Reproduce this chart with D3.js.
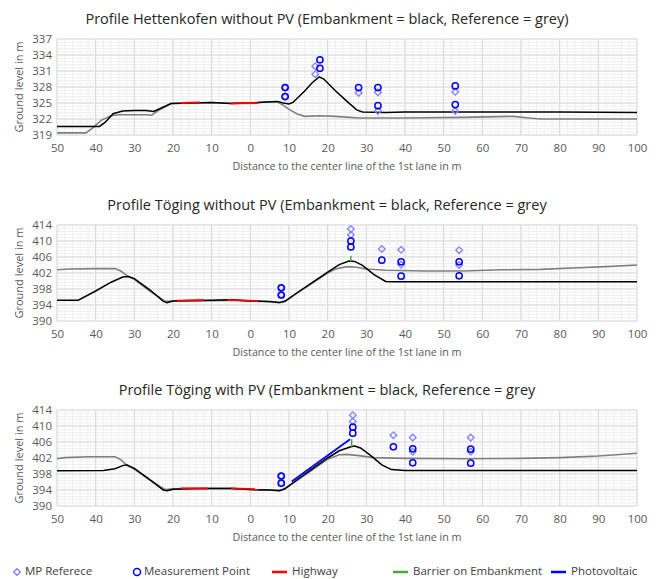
<!DOCTYPE html>
<html lang="en">
<head>
   <meta charset="UTF-8">
   <title>Ground level profiles</title>
   <script src="https://cdn.jsdelivr.net/npm/d3@7/dist/d3.min.js"></script>
   <style>
      body { margin: 0; background: #fff; }
      svg text { font-family: "Open Sans", "Noto Sans", sans-serif; }
   </style>
</head>
<body>
<div class="d3"></div>
<script>
   // ---- data ----
   const xTicks = [-50, -40, -30, -20, -10, 0, 10, 20, 30, 40, 50, 60, 70, 80, 90, 100]
   const hettTicks = [319, 322, 325, 328, 331, 334, 337]
   const togTicks = [390, 394, 398, 402, 406, 410, 414]

   // Hettenkofen without PV
   const hettReference = [[-50, 319.4], [-42.5, 319.4], [-41, 320.2], [-38.5, 321.8], [-36, 322.6], [-34, 322.8],
      [-27, 322.8], [-25.5, 322.7], [-24, 323.5], [-20.5, 324.9], [-15, 325.0], [-10, 325.1], [-5, 324.9], [0, 325.0],
      [5, 325.2], [7, 325.2], [8.5, 324.6], [10, 323.8], [12, 323.0], [14, 322.5], [18, 322.6], [22, 322.5],
      [28, 322.2], [40, 322.2], [55, 322.3], [68, 322.5], [72, 322.2], [75, 322.0], [100, 322.0]]
   const hettEmbankment = [[-50, 320.6], [-39, 320.6], [-37.5, 321.4], [-35.5, 323.0], [-33, 323.5], [-30, 323.6],
      [-27, 323.6], [-25, 323.4], [-20.5, 324.9], [-15, 325.0], [-10, 325.1], [-5, 324.9], [0, 325.0], [4, 325.2],
      [7, 325.3], [8.5, 325.0], [10, 324.8], [11, 325.1], [14, 327.2], [16, 328.8], [17.8, 329.9], [19, 329.5],
      [22, 327.3], [25, 325.3], [27.5, 323.7], [29, 323.3], [35, 323.2], [40, 323.3], [60, 323.3], [80, 323.3], [100, 323.2]]
   const hettHighway = [[[-18, 325.0], [-13, 325.1]], [[-5, 324.95], [2, 325.0]]]
   const hettBarrier = []
   const hettPv = []
   const hettMpRef = [[9, 327.9], [9, 326.2], [16.8, 331.9], [16.8, 330.4], [28, 326.9], [33, 327.0], [33, 323.5],
      [53, 327.1], [53, 323.5]]
   const hettMp = [[9, 327.9], [9, 326.2], [18, 333.1], [18, 331.5], [28, 327.9], [33, 327.9], [33, 324.5],
      [53, 328.2], [53, 324.7]]

   // Töging without PV
   const togReference = [[-50, 402.8], [-47, 403.0], [-40, 403.1], [-35, 403.1], [-33.5, 402.5], [-31.5, 401.1],
      [-30, 400.4], [-26, 397.5], [-22, 394.9], [-20, 395.0], [-15, 395.0], [-10, 395.1], [-5, 395.2], [0, 395.0],
      [5, 394.8], [7.5, 394.6], [9, 394.9], [12, 396.9], [16, 399.5], [20, 402.0], [22, 403.0], [25, 403.6],
      [27, 403.5], [30, 403.0], [35, 402.7], [45, 402.5], [55, 402.5], [65, 402.8], [75, 402.9], [85, 403.3],
      [92, 403.6], [100, 404.0]]
   const togEmbankment = [[-50, 395.2], [-44.5, 395.2], [-40, 397.5], [-36, 399.7], [-33, 401.0], [-31.5, 401.1],
      [-30, 400.6], [-26, 397.8], [-22.5, 394.9], [-21.5, 394.6], [-20, 395.0], [-15, 395.1], [-10, 395.2],
      [-5, 395.3], [0, 395.0], [5, 394.9], [7.5, 394.6], [9, 395.0], [12, 397.0], [16, 399.6], [20, 402.2],
      [23, 404.1], [25.5, 405.0], [27, 404.9], [29, 403.9], [32, 401.6], [35, 399.9], [37, 399.8], [50, 399.8],
      [70, 399.8], [100, 399.8]]
   const togHighway = [[[-19, 395.1], [-12, 395.2]], [[-6, 395.3], [2, 395.0]]]
   const togBarrier = [[[26, 404.9], [26, 406.3]]]
   const togPv = []
   const togMpRef = [[8, 398.3], [8, 396.5], [26, 413.0], [26, 411.5], [34, 408.0], [39, 407.8], [39, 404.1],
      [54, 407.7], [54, 404.0]]
   const togMp = [[8, 398.3], [8, 396.5], [26, 410.0], [26, 408.5], [34, 405.2], [39, 404.8], [39, 401.2],
      [54, 404.8], [54, 401.3]]

   // Töging with PV
   const pvReference = [[-50, 401.8], [-48, 402.1], [-42, 402.3], [-35, 402.3], [-33.5, 401.6], [-32, 400.2],
      [-30, 399.2], [-26, 396.5], [-22, 394.1], [-20, 394.3], [-15, 394.4], [-10, 394.4], [-5, 394.4], [0, 394.1],
      [5, 394.0], [8, 393.9], [12, 396.3], [16, 399.0], [20, 401.7], [23, 402.8], [25, 402.9], [28, 402.6],
      [32, 402.1], [40, 401.9], [55, 401.8], [70, 401.9], [80, 402.1], [90, 402.5], [100, 403.2]]
   const pvEmbankment = [[-50, 398.8], [-38, 398.9], [-35, 399.3], [-33, 400.1], [-32, 400.3], [-30, 399.4],
      [-26, 396.6], [-22.5, 394.0], [-21.5, 393.8], [-20, 394.2], [-15, 394.3], [-10, 394.4], [-5, 394.4],
      [0, 394.1], [5, 394.0], [7.5, 393.8], [9, 394.3], [12, 396.5], [16, 399.3], [20, 402.0], [23, 403.8],
      [26, 404.8], [27, 405.0], [28.5, 404.5], [31, 402.7], [34, 400.3], [36.5, 399.1], [40, 398.9], [60, 398.9],
      [80, 398.9], [100, 398.9]]
   const pvHighway = [[[-18, 394.4], [-11, 394.4]], [[-5, 394.4], [2, 394.2]]]
   const pvBarrier = [[[26.2, 404.8], [26.2, 406.7]]]
   const pvPv = [[[10.7, 396.1], [25.8, 406.7]]]
   const pvMpRef = [[8, 397.5], [8, 395.7], [26.5, 412.7], [26.5, 411.1], [37, 407.7], [42, 407.1], [42, 403.6],
      [57, 407.1], [57, 403.6]]
   const pvMp = [[8, 397.5], [8, 395.7], [26.5, 409.7], [26.5, 408.2], [37, 404.8], [42, 404.3], [42, 400.8],
      [57, 404.2], [57, 400.7]]

   const legendItems = ['MP Referece', 'Measurement Point', 'Highway', 'Barrier on Embankment', 'Photovoltaic']

   // ---- layout ----
   const WIDTH = 656
   const HEIGHT = 579
   const LEFT = 57
   const RIGHT = 637
   const PLOT_H = 96

   const REF_COLOR = '#808080'
   const EMB_COLOR = '#000000'
   const HIGHWAY_COLOR = '#ff0000'
   const BARRIER_COLOR = '#4aa83a'
   const PV_COLOR = '#0000ff'
   const MPREF_COLOR = '#8585ff'
   const MP_COLOR = '#0000ff'
   const TEXT_COLOR = '#595959'

   const panels = [
      { title: 'Profile Hettenkofen without PV (Embankment = black, Reference = grey)', top: 39, ticks: hettTicks, minor: 0.6,
        ref: hettReference, emb: hettEmbankment, highway: hettHighway, barrier: hettBarrier, pv: hettPv, mpRef: hettMpRef, mp: hettMp },
      { title: 'Profile Töging without PV (Embankment = black, Reference = grey', top: 225, ticks: togTicks, minor: 0.8,
        ref: togReference, emb: togEmbankment, highway: togHighway, barrier: togBarrier, pv: togPv, mpRef: togMpRef, mp: togMp },
      { title: 'Profile Töging with PV (Embankment = black, Reference = grey', top: 410, ticks: togTicks, minor: 0.8,
        ref: pvReference, emb: pvEmbankment, highway: pvHighway, barrier: pvBarrier, pv: pvPv, mpRef: pvMpRef, mp: pvMp }
   ]

   const svg = d3.select('.d3').append('svg')
      .attr('width', WIDTH)
      .attr('height', HEIGHT)

   const x = d3.scaleLinear().domain([-50, 100]).range([LEFT, RIGHT])
   const diamond = d3.symbol(d3.symbolSquare).size(22)

   panels.forEach(p => {
      const bottom = p.top + PLOT_H
      const y = d3.scaleLinear()
         .domain([p.ticks[0], p.ticks[p.ticks.length - 1]])
         .range([bottom, p.top])
      const g = svg.append('g')

      // gridlines (minor then major)
      const xMinor = d3.range(-50, 100.01, 2)
      const yMinor = d3.range(p.ticks[0], p.ticks[p.ticks.length - 1] + 0.01, p.minor)
      g.selectAll('.vminor').data(xMinor).join('line')
         .attr('x1', d => x(d)).attr('x2', d => x(d))
         .attr('y1', p.top).attr('y2', bottom)
         .attr('stroke', '#efefef').attr('stroke-width', 1)
      g.selectAll('.hminor').data(yMinor).join('line')
         .attr('x1', LEFT).attr('x2', RIGHT)
         .attr('y1', d => y(d)).attr('y2', d => y(d))
         .attr('stroke', '#efefef').attr('stroke-width', 1)
      g.append('g').selectAll('line').data(xTicks).join('line')
         .attr('x1', d => x(d)).attr('x2', d => x(d))
         .attr('y1', p.top).attr('y2', bottom)
         .attr('stroke', '#d9d9d9').attr('stroke-width', 1)
      g.append('g').selectAll('line').data(p.ticks).join('line')
         .attr('x1', LEFT).attr('x2', RIGHT)
         .attr('y1', d => y(d)).attr('y2', d => y(d))
         .attr('stroke', '#d9d9d9').attr('stroke-width', 1)

      // axes
      const xAxis = g.append('g')
         .attr('transform', `translate(0, ${bottom})`)
         .call(d3.axisBottom(x).tickValues(xTicks).tickFormat(d => Math.abs(d)).tickSize(0).tickPadding(9))
      const yAxis = g.append('g')
         .attr('transform', `translate(${LEFT}, 0)`)
         .call(d3.axisLeft(y).tickValues(p.ticks).tickSize(0).tickPadding(5))
      ;[xAxis, yAxis].forEach(a => {
         a.select('.domain').remove()
         a.selectAll('text').attr('fill', TEXT_COLOR).attr('font-size', 11.5)
            .attr('font-family', '"Open Sans", sans-serif')
      })

      // titles
      g.append('text')
         .attr('x', 327).attr('y', p.top - 19)
         .attr('text-anchor', 'middle').attr('dominant-baseline', 'middle')
         .attr('font-size', 14.5).attr('fill', '#262626')
         .text(p.title)
      g.append('text')
         .attr('x', 347).attr('y', bottom + 32)
         .attr('text-anchor', 'middle').attr('dominant-baseline', 'middle')
         .attr('font-size', 10.7).attr('fill', TEXT_COLOR)
         .text('Distance to the center line of the 1st lane in m')
      g.append('text')
         .attr('transform', `translate(20, ${p.top + PLOT_H / 2}) rotate(-90)`)
         .attr('text-anchor', 'middle').attr('dominant-baseline', 'middle')
         .attr('font-size', 11).attr('fill', TEXT_COLOR)
         .text('Ground level in m')

      // lines
      const line = d3.line().x(d => x(d[0])).y(d => y(d[1]))
      g.append('path').datum(p.ref).attr('d', line)
         .attr('fill', 'none').attr('stroke', REF_COLOR).attr('stroke-width', 1.6)
      g.append('path').datum(p.emb).attr('d', line)
         .attr('fill', 'none').attr('stroke', EMB_COLOR).attr('stroke-width', 1.5)
      g.selectAll('.hw').data(p.highway).join('path').attr('d', line)
         .attr('fill', 'none').attr('stroke', HIGHWAY_COLOR).attr('stroke-width', 1.8)
      g.selectAll('.bar').data(p.barrier).join('path').attr('d', line)
         .attr('fill', 'none').attr('stroke', BARRIER_COLOR).attr('stroke-width', 1.5)
      g.selectAll('.pv').data(p.pv).join('path').attr('d', line)
         .attr('fill', 'none').attr('stroke', PV_COLOR).attr('stroke-width', 1.8)

      // markers
      g.selectAll('.mpref').data(p.mpRef).join('path')
         .attr('d', diamond)
         .attr('transform', d => `translate(${x(d[0])}, ${y(d[1])}) rotate(45)`)
         .attr('fill', 'none').attr('stroke', MPREF_COLOR).attr('stroke-width', 1.4)
      g.selectAll('.mp').data(p.mp).join('circle')
         .attr('cx', d => x(d[0])).attr('cy', d => y(d[1])).attr('r', 3.1)
         .attr('fill', 'none').attr('stroke', MP_COLOR).attr('stroke-width', 1.5)
   })

   // legend
   const LEGEND_Y = 572
   const legend = svg.append('g').attr('font-size', 11.5).attr('fill', '#404040')
   legend.append('path').attr('d', diamond)
      .attr('transform', `translate(17, ${LEGEND_Y}) rotate(45)`)
      .attr('fill', 'none').attr('stroke', MPREF_COLOR).attr('stroke-width', 1.4)
   legend.append('circle').attr('cx', 137).attr('cy', LEGEND_Y).attr('r', 3.5)
      .attr('fill', 'none').attr('stroke', MP_COLOR).attr('stroke-width', 1.5)
   legend.append('line').attr('x1', 272).attr('x2', 287).attr('y1', LEGEND_Y).attr('y2', LEGEND_Y)
      .attr('stroke', HIGHWAY_COLOR).attr('stroke-width', 2.5)
   legend.append('line').attr('x1', 393).attr('x2', 408).attr('y1', LEGEND_Y).attr('y2', LEGEND_Y)
      .attr('stroke', BARRIER_COLOR).attr('stroke-width', 2.5)
   legend.append('line').attr('x1', 551).attr('x2', 566).attr('y1', LEGEND_Y).attr('y2', LEGEND_Y)
      .attr('stroke', PV_COLOR).attr('stroke-width', 2.5)
   const legendX = [25, 144, 292, 413, 571]
   legend.selectAll('text').data(legendItems).join('text')
      .attr('x', (d, i) => legendX[i]).attr('y', LEGEND_Y)
      .attr('dominant-baseline', 'middle')
      .text(d => d)
</script>
</body>
</html>
